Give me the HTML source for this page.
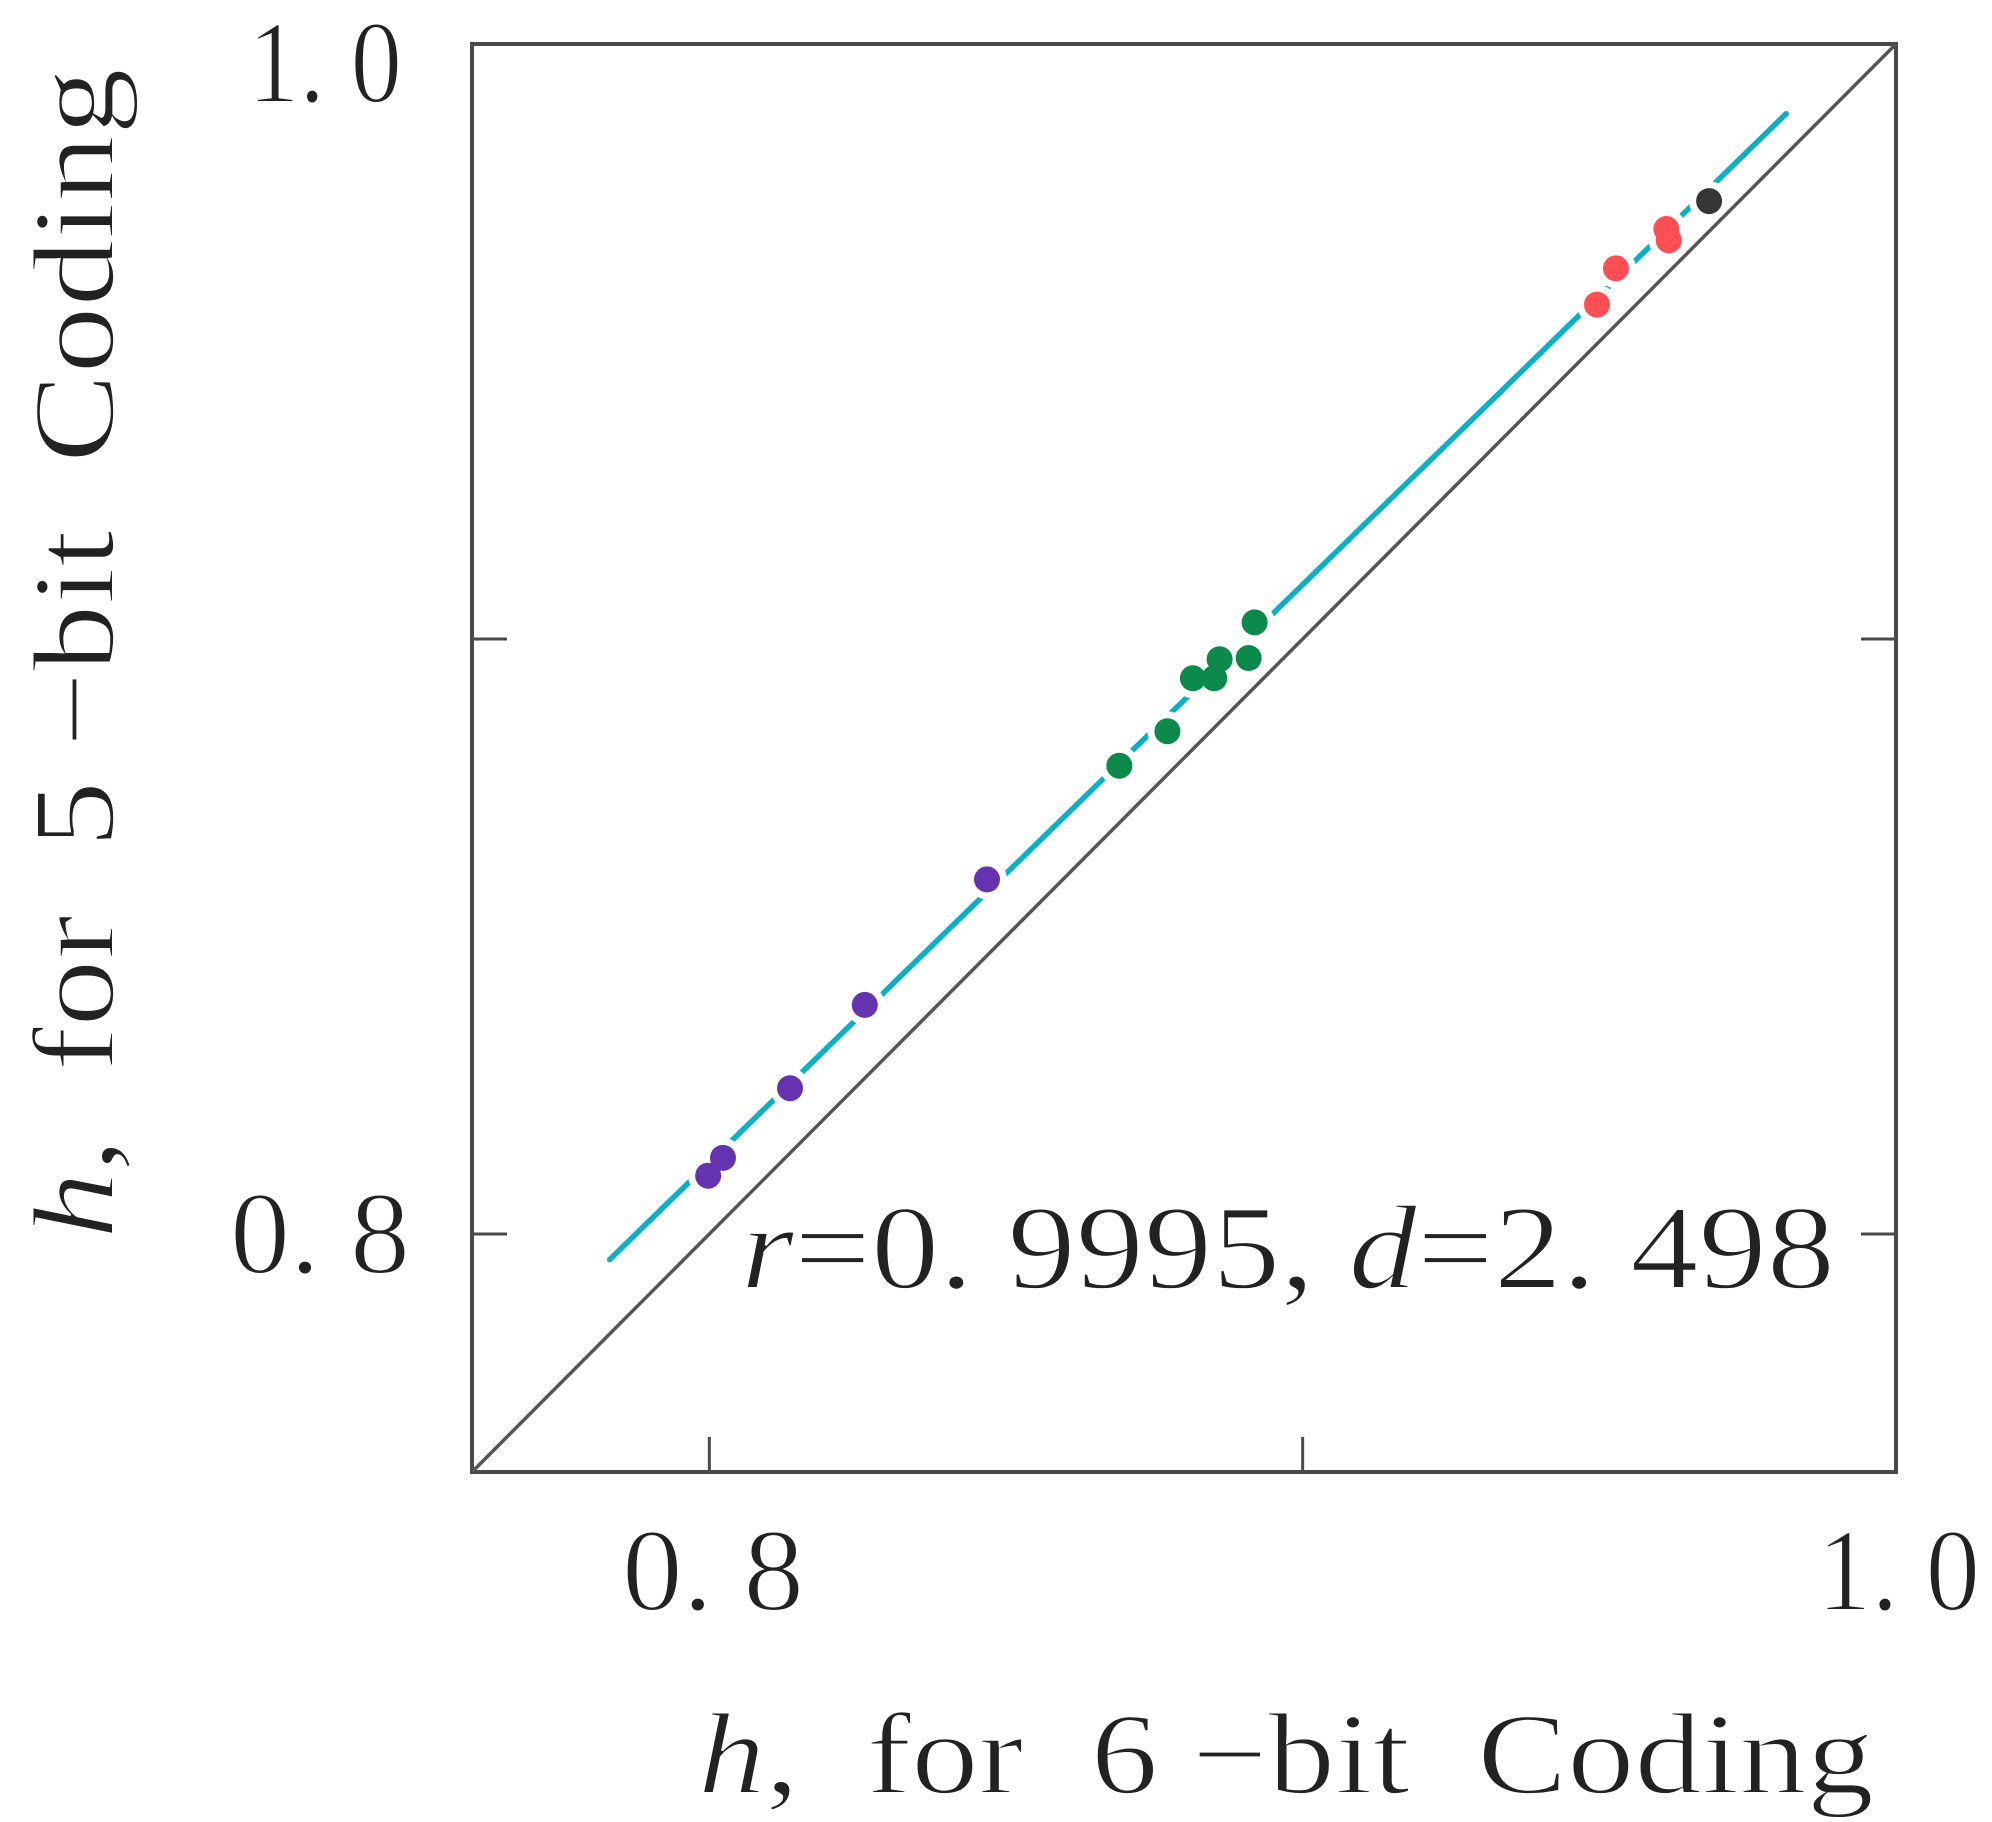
<!DOCTYPE html>
<html><head><meta charset="utf-8"><style>
html,body{margin:0;padding:0;background:#fff;}
svg{display:block;}
text{font-family:"Liberation Serif","Noto Serif CJK SC",serif;fill:#222;stroke:#fff;stroke-width:2;white-space:pre;}
</style></head><body>
<svg id="chart" width="1992" height="1822" viewBox="0 0 1992 1822" xmlns="http://www.w3.org/2000/svg">
<defs><mask id="gapmask" maskUnits="userSpaceOnUse" x="0" y="0" width="1992" height="1822"><rect x="0" y="0" width="1992" height="1822" fill="#fff"/><g id="maskholes"></g></mask></defs>
<g id="plot"></g>
<text x="248" y="102" font-size="118" textLength="154" lengthAdjust="spacingAndGlyphs">1. 0</text>
<text x="230" y="1273" font-size="118" textLength="180" lengthAdjust="spacingAndGlyphs">0. 8</text>
<text x="622" y="1610" font-size="118" textLength="182" lengthAdjust="spacingAndGlyphs">0. 8</text>
<text x="1817" y="1610" font-size="118" textLength="163" lengthAdjust="spacingAndGlyphs">1. 0</text>
<text x="741" y="1288" font-size="120" textLength="1094" lengthAdjust="spacingAndGlyphs"><tspan font-style="italic">r</tspan>=0. 9995, <tspan font-style="italic">d</tspan>=2. 498</text>
<text xml:space="preserve" x="698" y="1793" font-size="116" textLength="1176" lengthAdjust="spacingAndGlyphs"><tspan font-style="italic">h</tspan>,  for  6 −bit  Coding</text>
<text xml:space="preserve" transform="translate(113,1239) rotate(-90)" x="0" y="0" font-size="116" textLength="1171" lengthAdjust="spacingAndGlyphs"><tspan font-style="italic">h</tspan>,  for  5 −bit  Coding</text>
</svg>
<script>
const purpleX=[0.7998,0.8023,0.8136,0.8262,0.8468];
const purpleY=[0.8098,0.8128,0.8245,0.8385,0.8596];
const greenX=[0.8691,0.8772,0.8815,0.8851,0.8860,0.8909,0.8919];
const greenY=[0.8787,0.8845,0.8934,0.8934,0.8966,0.8968,0.9028];
const redX=[0.9496,0.9528,0.9613,0.9617];
const redY=[0.9562,0.9623,0.9689,0.9670];
const blackX=[0.9685];
const blackY=[0.9736];
const fitX=[0.7832,0.9815];
const fitY=[0.7957,0.9883];
const xTicks=[0.8,0.9,1.0];
const yTicks=[0.8,0.9,1.0];
const DMIN=0.76,DMAX=1.0;
const PX0=472,PX1=1896,PY0=1472,PY1=44;
function sx(v){return PX0+(v-DMIN)/(DMAX-DMIN)*(PX1-PX0);}
function sy(v){return PY0-(v-DMIN)/(DMAX-DMIN)*(PY0-PY1);}
const NS="http://www.w3.org/2000/svg";
const plot=document.getElementById('plot');
const holes=document.getElementById('maskholes');
function mk(tag,attrs,parent){const e=document.createElementNS(NS,tag);for(const k in attrs)e.setAttribute(k,attrs[k]);(parent||plot).appendChild(e);return e;}
let fr=mk('rect',{x:PX0,y:PY1,width:PX1-PX0,height:PY0-PY1,fill:'none',stroke:'#4a4a4a','stroke-width':4});


xTicks.forEach(t=>{
  const l=mk('line',{x1:sx(t),x2:sx(t),y1:PY0,y2:PY0-35,stroke:'#4a4a4a','stroke-width':3});
  
  
});
yTicks.forEach(t=>{
  const l=mk('line',{x1:PX0,x2:PX0+35,y1:sy(t),y2:sy(t),stroke:'#4a4a4a','stroke-width':3});
  
  
  const l2=mk('line',{x1:PX1,x2:PX1-35,y1:sy(t),y2:sy(t),stroke:'#4a4a4a','stroke-width':3});
  
  
});
let dg=mk('line',{x1:sx(DMIN),y1:sy(DMIN),x2:sx(DMAX),y2:sy(DMAX),stroke:'#555','stroke-width':3.5});


const groups=[[purpleX,purpleY,'#6633b0','purple-point'],[greenX,greenY,'#0b8a4c','green-point'],[redX,redY,'#ff4f55','red-point'],[blackX,blackY,'#363636','black-point']];
groups.forEach(g=>{g[0].forEach((v,i)=>{mk('circle',{cx:sx(v),cy:sy(g[1][i]),r:20,fill:'#000'},holes);});});
let fl=mk('line',{x1:sx(fitX[0]),y1:sy(fitY[0]),x2:sx(fitX[1]),y2:sy(fitY[1]),stroke:'#0ab0c8','stroke-width':5.5,'stroke-linecap':'round',mask:'url(#gapmask)'});


groups.forEach(g=>{g[0].forEach((v,i)=>{
  const c=mk('circle',{cx:sx(v),cy:sy(g[1][i]),r:13,fill:g[2]});
  
  
});});
</script>
</body></html>
